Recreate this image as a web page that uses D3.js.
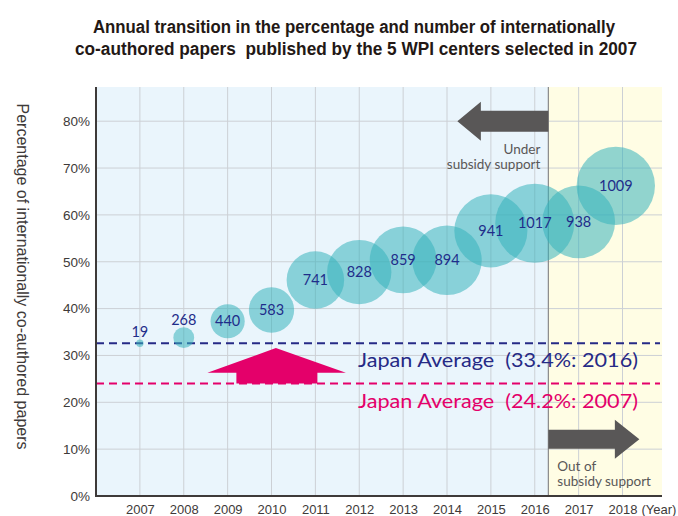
<!DOCTYPE html>
<html>
<head>
<meta charset="utf-8">
<script src="https://cdn.jsdelivr.net/npm/d3@7"></script>
<style>
  body { margin: 0; background: #fff; }
  svg { display: block; }
</style>
</head>
<body>
<script>
const width = 678;
const height = 516;

// data
const years    = [2007, 2008, 2009, 2010, 2011, 2012, 2013, 2014, 2015, 2016, 2017, 2018];
const papers   = [19, 268, 440, 583, 741, 828, 859, 894, 941, 1017, 938, 1009];
const percents = [32.6, 33.8, 37.3, 39.7, 46.1, 47.8, 50.4, 50.3, 56.6, 58.2, 58.5, 66.2];
const yTicks   = [0, 10, 20, 30, 40, 50, 60, 70, 80];
const avgLevels = [32.6, 24.0];
const avgLabels = ["Japan Average  (33.4%: 2016)", "Japan Average  (24.2%: 2007)"];
const avgColors = ["#262a86", "#e4006a"];
const supportEnd = 2016.31;

const bubbles = years.map((y, i) => ({year: y, n: papers[i], pct: percents[i]}));

const margin = {top: 87, right: 16, bottom: 20, left: 96};
const x = d3.scaleLinear().domain([2006, 2018.9]).range([margin.left, width - margin.right]);
const y = d3.scaleLinear().domain([0, 87.3]).range([height - margin.bottom, margin.top]);
const r = d3.scaleLinear().domain([0, 1017]).range([0, 39.5]);

const svg = d3.select("body").append("svg")
  .attr("width", width)
  .attr("height", height);

// title
svg.append("text")
  .attr("x", 354).attr("y", 33)
  .attr("text-anchor", "middle")
  .attr("textLength", 522).attr("lengthAdjust", "spacingAndGlyphs")
  .style("font-family", "'Liberation Sans Narrow', 'Liberation Sans', sans-serif")
  .style("font-weight", "bold").style("font-size", "17.5px").style("fill", "#231815")
  .text("Annual transition in the percentage and number of internationally");
svg.append("text")
  .attr("x", 356).attr("y", 55)
  .attr("text-anchor", "middle")
  .attr("textLength", 562).attr("lengthAdjust", "spacingAndGlyphs")
  .style("white-space", "pre")
  .style("font-family", "'Liberation Sans Narrow', 'Liberation Sans', sans-serif")
  .style("font-weight", "bold").style("font-size", "17.5px").style("fill", "#231815")
  .text("co-authored papers  published by the 5 WPI centers selected in 2007");

// backgrounds
const x0 = x.range()[0], x1 = x.range()[1];
const yTop = y.range()[1], yBot = y.range()[0];
svg.append("rect")
  .attr("x", x0).attr("y", yTop)
  .attr("width", x(supportEnd) - x0).attr("height", yBot - yTop)
  .style("fill", "#eaf5fc");
svg.append("rect")
  .attr("x", x(supportEnd)).attr("y", yTop)
  .attr("width", x1 - x(supportEnd)).attr("height", yBot - yTop)
  .style("fill", "#fffde4");

// grid
const grid = svg.append("g").style("stroke", "#ccd0d5").style("stroke-width", 1);
grid.selectAll("line.v").data(years).enter().append("line")
  .attr("x1", d => x(d)).attr("x2", d => x(d))
  .attr("y1", yTop).attr("y2", yBot);
grid.selectAll("line.h").data(yTicks.filter(d => d > 0)).enter().append("line")
  .attr("x1", x0).attr("x2", x1)
  .attr("y1", d => y(d)).attr("y2", d => y(d));

svg.append("line")
  .attr("x1", x(supportEnd)).attr("x2", x(supportEnd))
  .attr("y1", yTop).attr("y2", yBot)
  .style("stroke", "#8a8a8a").style("stroke-width", 1.2);

// japan average lines
svg.selectAll("line.avg").data(avgLevels).enter().append("line")
  .attr("x1", x0).attr("x2", x1 - 2)
  .attr("y1", d => y(d)).attr("y2", d => y(d))
  .style("stroke", (d, i) => avgColors[i])
  .style("stroke-width", 2)
  .style("stroke-dasharray", "8,5");

// pink upward arrow
const ax = x(2010.1), tipY = y(31.6), headY = y(26.3), baseY = y(avgLevels[1]);
svg.append("path")
  .attr("d", d3.line()([
    [ax, tipY], [ax + 70, headY], [ax + 41.5, headY], [ax + 41.5, baseY],
    [ax - 39.5, baseY], [ax - 39.5, headY], [ax - 68.5, headY]
  ]) + "Z")
  .style("fill", "#e4006a");

// gray arrows
const dx = x(supportEnd);
const topC = y(80), botC = y(12.1);
svg.append("path")
  .attr("d", d3.line()([
    [dx, topC - 10.5], [dx - 67.5, topC - 10.5], [dx - 67.5, topC - 19.5],
    [dx - 91, topC], [dx - 67.5, topC + 19.5], [dx - 67.5, topC + 10.5], [dx, topC + 10.5]
  ]) + "Z")
  .style("fill", "#595757");
svg.append("path")
  .attr("d", d3.line()([
    [dx, botC - 9.5], [dx + 66.5, botC - 9.5], [dx + 66.5, botC - 19.5],
    [dx + 91, botC], [dx + 66.5, botC + 19.5], [dx + 66.5, botC + 9.5], [dx, botC + 9.5]
  ]) + "Z")
  .style("fill", "#595757");

const noteFont = "Lato, 'Open Sans', sans-serif";
const under = svg.append("text")
  .attr("text-anchor", "end")
  .style("font-family", noteFont).style("font-size", "13.5px").style("fill", "#595757");
under.append("tspan").attr("x", dx - 8).attr("y", 154).text("Under");
under.append("tspan").attr("x", dx - 8).attr("y", 169).text("subsidy support");

const out = svg.append("text")
  .style("font-family", noteFont).style("font-size", "13.5px").style("fill", "#595757");
out.append("tspan").attr("x", dx + 9).attr("y", 470.5).text("Out of");
out.append("tspan").attr("x", dx + 9).attr("y", 486).text("subsidy support");

// bubbles
const radius = d => Math.max(3.7, r(d.n));
const cx = d => Math.min(x(d.year), x1 - radius(d) - 7);
svg.append("g").selectAll("circle").data(bubbles).enter().append("circle")
  .attr("cx", cx)
  .attr("cy", d => y(d.pct))
  .attr("r", radius)
  .style("fill", "#36b3bb")
  .style("fill-opacity", 0.55);

svg.append("g").selectAll("text").data(bubbles).enter().append("text")
  .attr("x", cx)
  .attr("y", d => d.n < 300 ? y(d.pct) - radius(d) - 2.5 : y(d.pct) + 5)
  .attr("text-anchor", "middle")
  .style("font-family", noteFont).style("font-size", "14.5px")
  .style("fill", "#1f2d8a")
  .text(d => d.n);

// average labels
svg.selectAll("text.avg").data(avgLabels).enter().append("text")
  .attr("x", 358)
  .attr("y", (d, i) => y(avgLevels[i]) + 24)
  .attr("textLength", 280).attr("lengthAdjust", "spacingAndGlyphs")
  .style("white-space", "pre")
  .style("font-family", noteFont).style("font-size", "18.5px")
  .style("fill", (d, i) => avgColors[i])
  .text(d => d);

// axes
const yAxis = d3.axisLeft(y).tickValues(yTicks).tickFormat(d => d + "%").tickSize(0).tickPadding(6);
const gy = svg.append("g").attr("transform", `translate(${x0},0)`).call(yAxis);
gy.select(".domain").remove();
gy.selectAll("text")
  .style("font-family", "'Liberation Sans', Arial, sans-serif")
  .style("font-size", "13.5px").style("fill", "#3e3a39");

const xAxis = d3.axisBottom(x).tickValues(years).tickFormat(d3.format("d")).tickSize(0).tickPadding(8.5);
const gx = svg.append("g").attr("transform", `translate(0,${yBot})`).call(xAxis);
gx.select(".domain").remove();
gx.selectAll("text")
  .style("font-family", "'Liberation Sans', Arial, sans-serif")
  .style("font-size", "13px").style("fill", "#3e3a39");

svg.append("text")
  .attr("x", x(2018) + 19).attr("y", yBot + 18)
  .style("font-family", "'Liberation Sans', Arial, sans-serif")
  .style("font-size", "13px").style("fill", "#3e3a39")
  .text("(Year)");

svg.append("path")
  .attr("d", `M${x0},${yTop}V${yBot}H${x1}`)
  .style("fill", "none").style("stroke", "#3e3a39").style("stroke-width", 2);

// y axis title
svg.append("text")
  .attr("transform", `translate(17,${(yTop + yBot) / 2 - 15}) rotate(90)`)
  .attr("text-anchor", "middle")
  .style("font-family", "'Liberation Sans', Arial, sans-serif")
  .style("font-size", "16px").style("fill", "#3e3a39")
  .text("Percentage of internationally co-authored papers");
</script>
</body>
</html>
